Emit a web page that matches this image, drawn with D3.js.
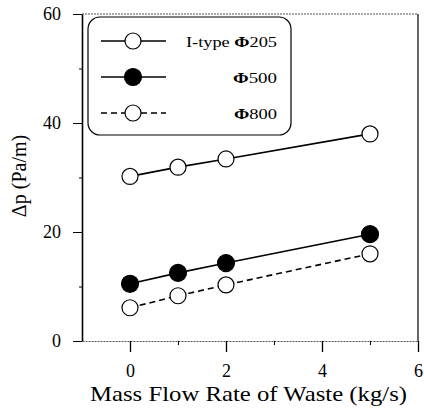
<!DOCTYPE html>
<html>
<head>
<meta charset="utf-8">
<script src="https://cdn.jsdelivr.net/npm/d3@7"></script>
<style>
  body { margin: 0; background: #fff; }
  svg text { font-family: "Liberation Serif", "Times New Roman", serif; fill: #000; }
</style>
</head>
<body>
<script>
var width = 424,
    height = 411;

// data
var flowRate = [0, 1, 2, 5];
var dp205 = [30.2, 31.9, 33.4, 38.0];
var dp500 = [10.5, 12.5, 14.3, 19.6];
var dp800 = [6.1, 8.3, 10.3, 16.0];
var seriesNames = ["I-type ", "", ""];
var seriesPhi = ["205", "500", "800"];
var xMajor = [0, 2, 4, 6],
    xMinor = [1, 3, 5],
    yMajor = [0, 20, 40, 60],
    yMinor = [10, 30, 50];

var serif = '"Liberation Serif", "Times New Roman", serif';

var svg = d3.select("body")
            .append("svg")
            .attr("width", width)
            .attr("height", height)
            .attr("font-family", serif);

var x = d3.scaleLinear().domain([-1, 6]).range([82, 418]),
    y = d3.scaleLinear().domain([0, 60]).range([341, 14]);

// frame top / right
svg.append("line")
   .attr("x1", x(-1)).attr("x2", x(6))
   .attr("y1", y(60)).attr("y2", y(60))
   .attr("stroke", "#555").attr("stroke-width", 1.2)
   .attr("stroke-dasharray", "2,1");
svg.append("line")
   .attr("x1", x(6)).attr("x2", x(6))
   .attr("y1", y(60)).attr("y2", y(0))
   .attr("stroke", "#000").attr("stroke-width", 1.2);

// x axis
var gx = svg.append("g")
   .attr("transform", "translate(0," + y(0) + ")")
   .call(d3.axisBottom(x).tickValues(xMajor).tickSize(11).tickSizeOuter(0)
           .tickPadding(12).tickFormat(d3.format("d")))
   .attr("font-family", serif).attr("font-size", 18);
gx.select(".domain").attr("stroke", "#555").attr("stroke-width", 1.2).attr("stroke-dasharray", "2,1");
gx.selectAll(".tick line").attr("stroke-width", 1.3);
svg.append("g")
   .attr("transform", "translate(0," + y(0) + ")")
   .call(d3.axisBottom(x).tickValues(xMinor).tickSize(4).tickFormat(""))
   .select(".domain").remove();

// y axis
var gy = svg.append("g")
   .attr("transform", "translate(" + x(-1) + ",0)")
   .call(d3.axisLeft(y).tickValues(yMajor).tickSize(9).tickSizeOuter(0)
           .tickPadding(12).tickFormat(d3.format("d")))
   .attr("font-family", serif).attr("font-size", 18);
gy.select(".domain").attr("stroke-width", 1.6);
svg.append("g")
   .attr("transform", "translate(" + x(-1) + ",0)")
   .call(d3.axisLeft(y).tickValues(yMinor).tickSize(3).tickFormat(""))
   .select(".domain").remove();

// axis titles
svg.append("text")
   .attr("x", 248.5).attr("y", 401)
   .attr("text-anchor", "middle")
   .attr("font-size", 22)
   .attr("textLength", 317)
   .attr("lengthAdjust", "spacingAndGlyphs")
   .text("Mass Flow Rate of Waste (kg/s)");
svg.append("text")
   .attr("transform", "translate(26,176) rotate(-90)")
   .attr("text-anchor", "middle")
   .attr("font-size", 20)
   .text("\u0394p (Pa/m)");

// series
var line = d3.line()
             .x(function(d, i) { return x(flowRate[i]); })
             .y(function(d) { return y(d); });

var series = [
  {values: dp205, fill: "#fff", dash: null, r: 8},
  {values: dp500, fill: "#000", dash: null, r: 8.5},
  {values: dp800, fill: "#fff", dash: "6,4", r: 8}
];

series.forEach(function(s) {
  svg.append("path")
     .attr("d", line(s.values))
     .attr("fill", "none")
     .attr("stroke", "#000")
     .attr("stroke-width", 1.6)
     .attr("stroke-dasharray", s.dash);
  svg.selectAll(null)
     .data(s.values)
     .enter()
     .append("circle")
     .attr("cx", function(d, i) { return x(flowRate[i]); })
     .attr("cy", function(d) { return y(d); })
     .attr("r", s.r)
     .attr("fill", s.fill)
     .attr("stroke", "#000")
     .attr("stroke-width", 1.2);
});

// legend
var legend = svg.append("g");
legend.append("rect")
   .attr("x", 88).attr("y", 17)
   .attr("width", 203).attr("height", 118)
   .attr("rx", 12).attr("ry", 12)
   .attr("fill", "#fff")
   .attr("stroke", "#000")
   .attr("stroke-width", 1.2);

var rowY = [41, 77, 113];
var textLen = [91, 44, 43];
series.forEach(function(s, i) {
  legend.append("line")
     .attr("x1", 101).attr("x2", 166)
     .attr("y1", rowY[i]).attr("y2", rowY[i])
     .attr("stroke", "#000").attr("stroke-width", 1.6)
     .attr("stroke-dasharray", s.dash);
  legend.append("circle")
     .attr("cx", 133).attr("cy", rowY[i])
     .attr("r", s.r)
     .attr("fill", s.fill)
     .attr("stroke", "#000").attr("stroke-width", 1.2);
  var t = legend.append("text")
     .attr("x", 277).attr("y", rowY[i] + 6)
     .attr("text-anchor", "end")
     .attr("font-size", 15)
     .attr("textLength", textLen[i])
     .attr("lengthAdjust", "spacingAndGlyphs");
  t.append("tspan").text(seriesNames[i]);
  t.append("tspan").attr("font-weight", "bold").text("\u03A6");
  t.append("tspan").text(seriesPhi[i]);
});
</script>
</body>
</html>
